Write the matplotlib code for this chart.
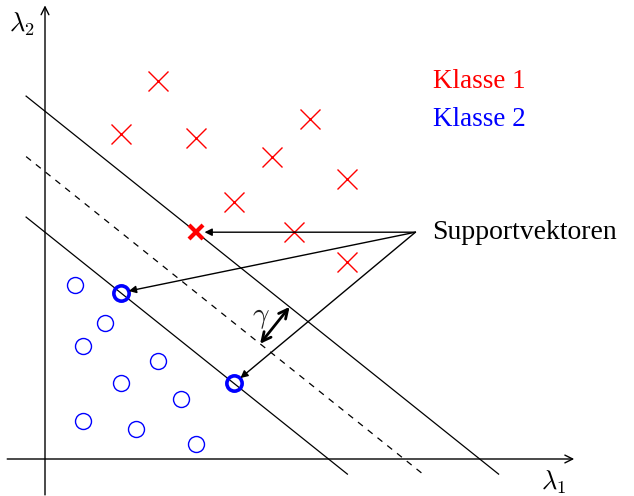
import matplotlib.pyplot as plt

plt.rcParams['mathtext.fontset'] = 'cm'
plt.rcParams['font.family'] = ['Liberation Serif', 'DejaVu Serif']

# Punkte der beiden Klassen (Einheiten in cm)
klasse1_x = [3.0, 2.0, 4.0, 7.0, 6.0, 8.0, 5.0, 6.6, 8.0]
klasse1_y = [10.0, 8.6, 8.5, 9.0, 8.0, 7.4, 6.8, 6.0, 5.2]
klasse2_x = [0.8, 1.6, 1.0, 3.0, 2.0, 3.6, 1.0, 2.4, 4.0]
klasse2_y = [4.6, 3.6, 3.0, 2.6, 2.0, 1.6, 1.0, 0.8, 0.4]

# Supportvektoren
sv1_x = [4.0]
sv1_y = [6.0]
sv2_x = [2.0, 5.0]
sv2_y = [4.4, 2.0]

# Geraden 0.8*x + y = c  (Rand unten, Trennlinie, Rand oben)
steigung = 0.8
c_unten, c_mitte, c_oben = 6.0, 7.6, 9.2
x_start, y_ende = -0.5, -0.4

fig = plt.figure(figsize=(6.34, 4.96), dpi=100)
ax = fig.add_axes([0, 0, 1, 1])
ax.set_xlim(-45 / 37.8, (634 - 45) / 37.8)
ax.set_ylim(-(496 - 459) / 37.8, 459 / 37.8)
ax.axis('off')

# Achsen
ax.annotate('', xy=(14.0, 0), xytext=(-1.0, 0),
            arrowprops=dict(arrowstyle='->', lw=1.0, color='black',
                            mutation_scale=14, shrinkA=0, shrinkB=0))
ax.annotate('', xy=(0, 12.0), xytext=(0, -0.95),
            arrowprops=dict(arrowstyle='->', lw=1.0, color='black',
                            mutation_scale=14, shrinkA=0, shrinkB=0))
ax.text(13.45, -0.62, r'$\lambda_1$', fontsize=19, ha='center', va='center')
ax.text(-0.62, 11.5, r'$\lambda_2$', fontsize=19, ha='center', va='center')

for c, ls in [(c_unten, '-'), (c_mitte, '--'), (c_oben, '-')]:
    x_end = (c - y_ende) / steigung
    xs = [x_start, x_end]
    ys = [c - steigung * x for x in xs]
    line, = ax.plot(xs, ys, color='black', lw=0.9, linestyle=ls)
    if ls == '--':
        line.set_dashes((5, 5))

# Klassen
ax.plot(klasse1_x, klasse1_y, linestyle='none', marker='x', ms=14,
        mew=1.0, color='red')
ax.plot(klasse2_x, klasse2_y, linestyle='none', marker='o', ms=11.5,
        mew=1.0, mfc='none', mec='blue')
ax.plot(sv1_x, sv1_y, linestyle='none', marker='x', ms=10, mew=3.0,
        color='red')
ax.plot(sv2_x, sv2_y, linestyle='none', marker='o', ms=11, mew=2.6,
        mfc='none', mec='blue')

# Legende
ax.text(10.26, 10.0, 'Klasse 1', color='red', fontsize=19.5, ha='left',
        va='center')
ax.text(10.26, 8.98, 'Klasse 2', color='blue', fontsize=19.5, ha='left',
        va='center')

# Pfeile zu den Supportvektoren
ax.text(10.24, 6.0, 'Supportvektoren', fontsize=20, ha='left', va='center')
quelle = (9.8, 6.0)
for px, py in zip(sv1_x + sv2_x, sv1_y + sv2_y):
    ax.annotate('', xy=(px, py), xytext=quelle,
                arrowprops=dict(arrowstyle='-|>', lw=1.0, color='black',
                                mutation_scale=11, shrinkA=0, shrinkB=6))

# Abstand gamma zwischen Trennlinie und Rand
norm = (steigung ** 2 + 1) ** 0.5
nx, ny = steigung / norm, 1 / norm
x0 = 5.69
y0 = c_mitte - steigung * x0
d = (c_oben - c_mitte) / norm
ax.annotate('', xy=(x0 + d * nx, y0 + d * ny), xytext=(x0, y0),
            arrowprops=dict(arrowstyle='<->', lw=2.0, color='black',
                            mutation_scale=16, shrinkA=0, shrinkB=0))
ax.text(5.72, 3.73, r'$\gamma$', fontsize=21, ha='center', va='center',
        color='#222222')

fig.savefig('out.png', dpi=100)
